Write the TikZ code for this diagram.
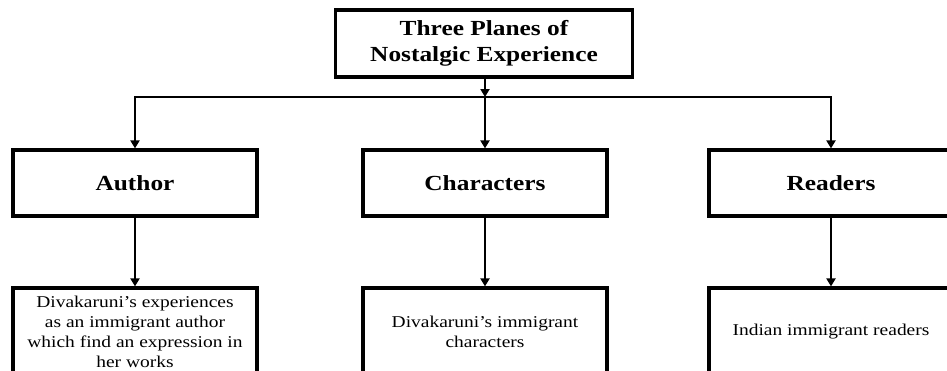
\documentclass[tikz,border=0pt]{standalone}
\usepackage{fontspec}
\setmainfont{Liberation Serif}[FakeStretch=1.18]
\usetikzlibrary{arrows.meta}
\begin{document}
\begin{tikzpicture}[x=1pt,y=1pt,
  box/.style={draw=black, line width=3.2pt, fill=white, inner sep=0pt, align=center},
  headbox/.style={box, font=\fontsize{21.5}{26.5}\selectfont\bfseries},
  textbox/.style={box, minimum width=244pt, minimum height=88pt, font=\fontsize{16.5}{20}\selectfont},
  arrow/.style={line width=2.9pt, -{Triangle[length=8pt,width=9pt]}}
]
\clip (0,0) rectangle (947,-370);
\fill[white] (0,0) rectangle (947,-370);
\node[headbox, minimum width=297pt, minimum height=67pt] (top) at (484,-43.5) {Three Planes of\\Nostalgic Experience};
\node[headbox, minimum width=244pt, minimum height=66pt] (author) at (135,-183) {Author};
\node[headbox, minimum width=244pt, minimum height=66pt] (chars) at (485,-183) {Characters};
\node[headbox, minimum width=244pt, minimum height=66pt] (readers) at (831,-183) {Readers};
\node[textbox] (b1) at (135,-332) {Divakaruni’s experiences\\as an immigrant author\\which find an expression in\\her works};
\node[textbox] (b2) at (485,-332) {Divakaruni’s immigrant\\characters};
\node[textbox] (b3) at (831,-332) {Indian immigrant readers};
\coordinate (j) at (485,-97);
\draw[arrow] (top.south -| j) -- (j);
\draw[arrow] (j) -| (author.north);
\draw[arrow] (j) -| (readers.north);
\draw[arrow] (j) -- (chars.north);
\draw[arrow] (author.south) -- (b1.north);
\draw[arrow] (chars.south) -- (b2.north);
\draw[arrow] (readers.south) -- (b3.north);
\end{tikzpicture}
\end{document}
